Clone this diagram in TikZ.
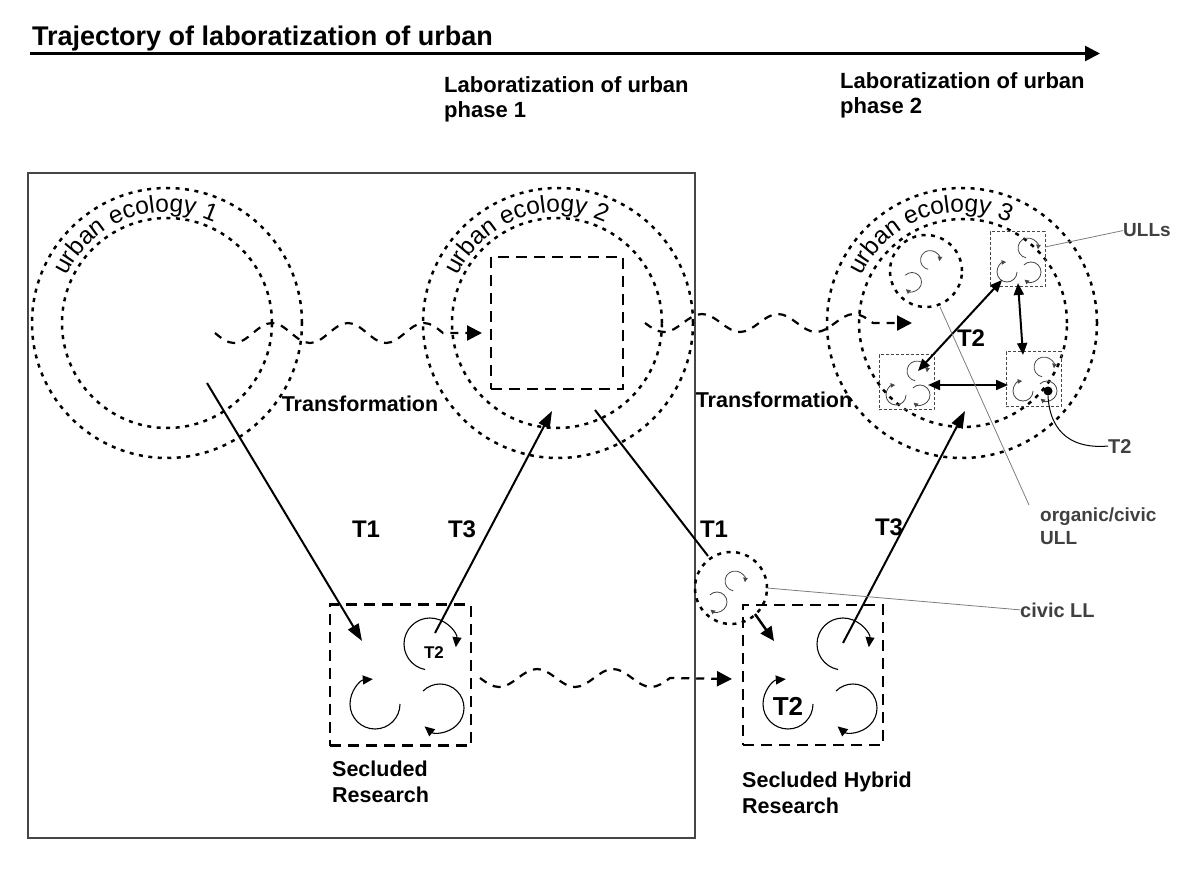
\documentclass[tikz,border=0pt]{standalone}
\usepackage{fontspec}
\setmainfont{Liberation Sans}
\usetikzlibrary{arrows.meta,decorations.text}
\definecolor{lblgray}{RGB}{64,64,64}
\definecolor{lngray}{RGB}{125,125,125}
\definecolor{frgray}{RGB}{70,70,70}
\newcommand{\lpA}[4]{\draw[#4] ({#1},{#2}) ++(-259:{#3}) arc[start angle=-259,end angle=7,radius={#3}];}
\newcommand{\lpB}[4]{\draw[#4] ({#1},{#2}) ++(0:{#3}) arc[start angle=0,end angle=265,radius={#3}];}
\newcommand{\lpC}[4]{\draw[#4] ({#1},{#2}) ++(-135:{#3}) arc[start angle=-135,end angle=130,radius={#3}];}
\newcommand{\bigloops}[2]{\lpA{#1+100}{#2+39}{26}{loopbig}\lpB{#1+45}{#2+99}{25}{loopbig}\lpC{#1+110}{#2+103}{24}{loopbig}}
\newcommand{\ullloops}[2]{\lpA{#1+38}{#2+16}{10}{loopsm}\lpB{#1+17}{#2+40}{10}{loopsm}\lpC{#1+41}{#2+40}{10}{loopsm}}
\begin{document}
\begin{tikzpicture}[x=1pt,y=-1pt,
  dotc/.style={draw, line width=2.5pt, dash pattern=on 4pt off 5.5pt, circle, inner sep=0pt, outer sep=0pt},
  sqr/.style={draw, line width=2.4pt, dash pattern=on 11pt off 7pt, rectangle, inner sep=0pt, outer sep=0pt},
  ullbox/.style={draw=frgray, line width=1pt, dash pattern=on 3pt off 2pt, rectangle, minimum size=55pt, inner sep=0pt},
  wave/.style={line width=2.2pt, dash pattern=on 8pt off 7pt, -{Triangle[length=15pt,width=15pt]}},
  conn/.style={line width=2pt, -{Triangle[length=17pt,width=12pt]}},
  dbl/.style={line width=2pt, {Triangle[length=12pt,width=10pt]}-{Triangle[length=12pt,width=10pt]}},
  loopbig/.style={line width=1.1pt, -{Triangle[length=10pt,width=9pt]}},
  loopsm/.style={draw=frgray, line width=0.8pt, -{Triangle[length=4.5pt,width=4.5pt]}},
  lbl/.style={font=\bfseries\fontsize{21.5}{26}\selectfont, inner sep=0pt, align=left},
  tlbl/.style={font=\bfseries\fontsize{24}{24}\selectfont, inner sep=0pt},
  note/.style={font=\bfseries\fontsize{20}{23}\selectfont, text=lblgray, inner sep=0pt, align=left},
  leader/.style={draw=lngray, line width=0.8pt},
  arctext/.style={decorate, decoration={text along path, text align=center, text={|\fontsize{24.5}{24.5}\selectfont|#1}}}
]
\useasboundingbox (0,0) rectangle (1200,869);

% title and trajectory
\node[anchor=base west, font=\bfseries\fontsize{27}{27}\selectfont, inner sep=0pt] (title) at (32,46) {Trajectory of laboratization of urban};
\coordinate (trs) at (30,53.5);
\coordinate (tre) at (1100,53.5);
\draw[line width=2.6pt, -{Triangle[length=15pt,width=15pt]}] (trs) -- (tre);
\node[anchor=north west, font=\bfseries\fontsize{22}{25}\selectfont, inner sep=0pt, align=left] (ph1) at (444,76) {Laboratization of urban\\phase 1};
\node[anchor=north west, font=\bfseries\fontsize{22}{25}\selectfont, inner sep=0pt, align=left] (ph2) at (840,72) {Laboratization of urban\\phase 2};

% frame
\node[draw=frgray, line width=1.4pt, minimum width=667pt, minimum height=665pt, inner sep=0pt] (frame) at (361.5,505.5) {};

% urban ecologies
\node[dotc, minimum size=270pt] (ue1o) at (167,323) {};
\node[dotc, minimum size=210pt] (ue1i) at (167,323) {};
\node[dotc, minimum size=270pt] (ue2o) at (558,323) {};
\node[dotc, minimum size=210pt] (ue2i) at (557,323) {};
\node[dotc, minimum size=270pt] (ue3o) at (962,323) {};
\node[dotc, minimum size=208pt] (ue3i) at (963,323) {};
\path[arctext={urban ecology 1}] (167,323) ++(-164:111) arc[start angle=-164, end angle=-56, radius=111];
\path[arctext={urban ecology 2}] (558,323) ++(-164:111) arc[start angle=-164, end angle=-56, radius=111];
\path[arctext={urban ecology 3}] (962,323) ++(-164:111) arc[start angle=-164, end angle=-56, radius=111];

% squares
\node[sqr, minimum size=132pt] (sq2) at (557,323) {};
\node[sqr, minimum size=141pt] (sr) at (400.5,675) {};
\node[sqr, minimum size=140pt] (shr) at (813,675) {};
\bigloops{330}{605}
\bigloops{743}{605}
\node[font=\bfseries\fontsize{17}{17}\selectfont, inner sep=0pt] (t2a) at (434,653) {T2};
\node[font=\bfseries\fontsize{26}{26}\selectfont, inner sep=0pt] (t2b) at (788,706) {T2};

% waves
\coordinate (w1s) at (215,333); \coordinate (w1e) at (482,333);
\draw[wave] (w1s) sin (234,343) cos (253,333) sin (272,323) cos (291,333) sin (310,343) cos (329,333) sin (348,323) cos (367,333) sin (386,343) cos (405,333) sin (424,323) cos (443,333) -- (w1e);
\coordinate (w2s) at (645,323); \coordinate (w2e) at (912,323);
\draw[wave] (w2s) sin (664,332) cos (683,323) sin (702,314) cos (721,323) sin (740,332) cos (759,323) sin (778,314) cos (797,323) sin (816,332) cos (835,323) sin (854,314) cos (873,323) -- (w2e);
\coordinate (w3s) at (480,678); \coordinate (w3e) at (732,679);
\draw[wave] (w3s) sin (499,687) cos (518,678) sin (537,669) cos (556,678) sin (575,687) cos (594,678) sin (613,669) cos (632,678) sin (651,687) cos (670,678) -- (w3e);

% transformation labels
\node[lbl] (tr1) at (360,404) {Transformation};
\node[lbl] (tr2) at (774,400) {Transformation};

% T arrows
\coordinate (t1s) at (207,383); \coordinate (t1e) at (362,641);
\draw[conn] (t1s) -- (t1e);
\coordinate (t3s) at (435,633); \coordinate (t3e) at (552,411);
\draw[conn] (t3s) -- (t3e);
\coordinate (t1rs) at (595,410); \coordinate (t1re) at (708,556);
\draw[line width=2pt] (t1rs) -- (t1re);
\coordinate (t3rs) at (843,643); \coordinate (t3re) at (965,411);
\draw[conn] (t3rs) -- (t3re);
\node[tlbl] (lt1) at (366,529) {T1};
\node[tlbl] (lt3) at (462,529) {T3};
\node[tlbl] (lt1r) at (714,529) {T1};
\node[tlbl] (lt3r) at (889,527) {T3};

% civic LL
\node[dotc, minimum size=72pt] (civ) at (731,588) {};
\lpA{735}{581}{10}{loopsm}
\lpC{717}{602}{10}{loopsm}
\coordinate (cas) at (755,614); \coordinate (cae) at (774,641);
\draw[line width=2.5pt, -{Triangle[length=14pt,width=13pt]}] (cas) -- (cae);
\node[note, anchor=base west] (civl) at (1020,617) {civic LL};
\coordinate (civa) at (767,588);
\draw[leader] (civa) -- (civl.west);

% urban ecology 3 contents
\node[dotc, minimum size=72pt] (org) at (926,271) {};
\lpA{930}{260}{9.5}{loopsm}
\lpC{912}{282}{9.5}{loopsm}
\node[ullbox] (ull1) at (1017.5,259.5) {};
\node[ullbox] (ull2) at (906.5,382) {};
\node[ullbox] (ull3) at (1033.5,379) {};
\ullloops{990}{232}
\ullloops{879}{355}
\ullloops{1006}{351}
\coordinate (d1a) at (1002,280); \coordinate (d1b) at (918,371);
\draw[dbl] (d1a) -- (d1b);
\coordinate (d2a) at (1018,283); \coordinate (d2b) at (1023,355);
\draw[dbl] (d2a) -- (d2b);
\coordinate (d3a) at (928,385); \coordinate (d3b) at (1008,385);
\draw[dbl] (d3a) -- (d3b);
\node[tlbl] (lt2r) at (971,338) {T2};
\node[circle, fill=black, minimum size=9pt, inner sep=0pt] (dot) at (1048,391) {};

% right-hand notes
\node[note, anchor=base west, font=\bfseries\fontsize{19}{19}\selectfont] (ulls) at (1123,237) {ULLs};
\coordinate (ulla) at (1045,247);
\draw[leader] (ulla) -- (ulls.west);
\node[note, anchor=base west] (t2n) at (1108,453) {T2};
\draw[draw=black, line width=1pt] (dot.south) .. controls (1050,435) and (1075,449) .. (t2n.west);
\node[note, anchor=north west, font=\bfseries\fontsize{19}{23}\selectfont] (orgl) at (1040,508) {organic/civic\\ULL};
\coordinate (orga) at (940,307); \coordinate (orgb) at (1029,505);
\draw[leader] (orga) -- (orgb);

% bottom labels
\node[lbl, anchor=north west] (srl) at (332,761) {Secluded\\Research};
\node[lbl, anchor=north west] (shrl) at (742,772) {Secluded Hybrid\\Research};
\end{tikzpicture}
\end{document}
